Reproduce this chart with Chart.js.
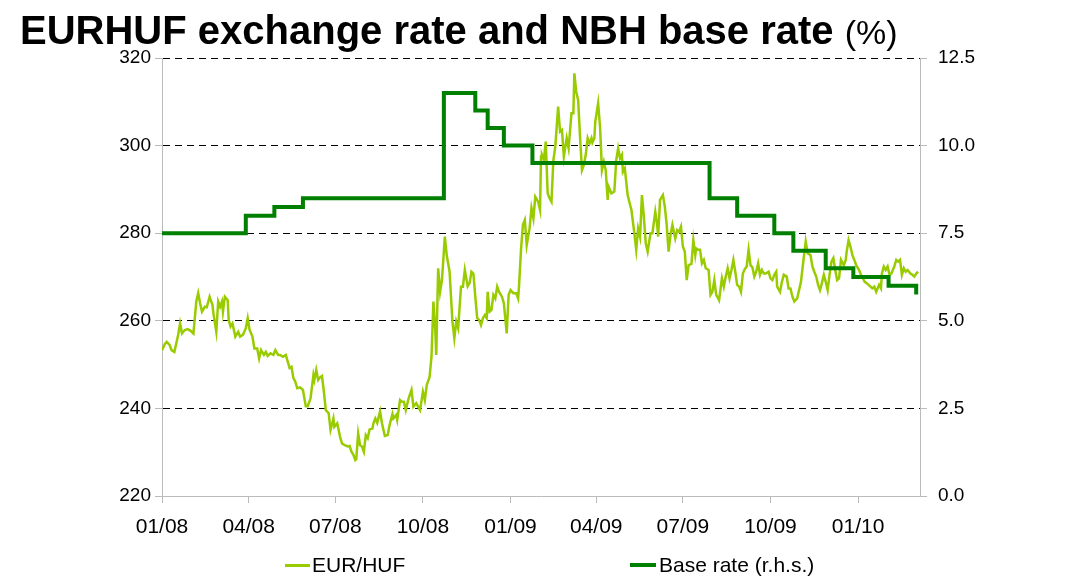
<!DOCTYPE html>
<html>
<head>
<meta charset="utf-8">
<script src="https://cdn.jsdelivr.net/npm/chart.js@4/dist/chart.umd.min.js"></script>
<style>
    body { margin: 0; background: #fff; font-family: 'Liberation Sans', Arial, sans-serif; }
    #wrap { position: relative; width: 1074px; height: 577px; }
    #title { position: absolute; left: 20px; top: 10px; font-size: 40px; line-height: 40px; font-weight: bold; color: #000; white-space: nowrap; }
    #title span { font-weight: normal; font-size: 34px; }
    .leg { position: absolute; top: 553px; font-size: 21px; line-height: 24px; color: #000; white-space: nowrap; }
    .swatch { position: absolute; }
</style>
</head>
<body>
<div id="wrap">
    <canvas id="chart" width="1074" height="577"></canvas>
    <div id="title">EURHUF exchange rate and NBH base rate <span>(%)</span></div>
    <div class="swatch" style="left:285px; top:564px; width:25px; height:3px; background:#99cc00;"></div>
    <div class="leg" style="left:312px;">EUR/HUF</div>
    <div class="swatch" style="left:630px; top:563px; width:26px; height:4px; background:#008000;"></div>
    <div class="leg" style="left:659px;">Base rate (r.h.s.)</div>
</div>
<script>
// x values are days counted from 2008-01-01
const quarterDays = [0, 91, 182, 274, 366, 456, 547, 639, 731];
const quarterLabels = ['01/08', '04/08', '07/08', '10/08', '01/09', '04/09', '07/09', '10/09', '01/10'];

// EUR/HUF (left axis)
const hufDays = [
    0, 3, 5, 8, 10, 13, 17, 19, 21, 24, 27, 30, 33, 36, 38, 40, 42, 45, 47, 50,
    53, 54, 57, 59, 61, 63, 64, 66, 69, 70, 72, 74, 77, 80, 82, 85, 88, 90, 92, 95,
    97, 100, 102, 104, 107, 109, 111, 114, 117, 119, 122, 124, 127, 130, 134, 136, 138, 140, 142, 145,
    148, 151, 153, 156, 159, 160, 162, 164, 166, 168, 170, 172, 175, 177, 180, 181, 184, 187, 189, 192,
    195, 197, 199, 201, 203, 204, 206, 208, 210, 212, 214, 216, 218, 221, 222, 224, 226, 229, 231, 234,
    237, 239, 242, 243, 246, 247, 250, 252, 254, 256, 259, 262, 264, 267, 269, 271, 274, 276, 278, 281,
    283, 285, 287, 288, 290, 292, 294, 297, 299, 302, 305, 307, 309, 311, 314, 316, 318, 321, 323, 325,
    327, 329, 331, 333, 335, 337, 339, 341, 342, 344, 346, 348, 350, 352, 354, 357, 359, 362, 364, 366,
    369, 372, 374, 375, 377, 379, 381, 383, 386, 388, 390, 392, 395, 397, 398, 399, 401, 403, 405, 407,
    409, 411, 413, 416, 418, 420, 422, 425, 427, 430, 432, 433, 435, 437, 439, 441, 443, 445, 447, 449,
    451, 452, 454, 455, 458, 460, 462, 464, 466, 468, 469, 472, 475, 477, 479, 481, 483, 484, 486, 489,
    492, 493, 496, 498, 500, 502, 504, 506, 508, 510, 513, 515, 518, 520, 521, 523, 526, 528, 530, 532,
    534, 536, 539, 541, 543, 545, 547, 549, 551, 553, 556, 558, 560, 561, 563, 565, 567, 569, 571, 574,
    576, 578, 580, 582, 583, 585, 588, 590, 592, 594, 596, 598, 600, 602, 604, 606, 608, 610, 612, 614,
    616, 618, 620, 622, 624, 626, 628, 630, 632, 634, 637, 639, 641, 643, 645, 646, 649, 651, 653, 656,
    658, 660, 662, 664, 667, 669, 671, 674, 676, 678, 681, 683, 685, 687, 689, 691, 693, 695, 697, 699,
    701, 703, 705, 707, 709, 711, 713, 716, 718, 719, 721, 723, 725, 727, 729, 732, 734, 736, 738, 740,
    742, 744, 746, 748, 750, 753, 755, 756, 758, 760, 762, 764, 766, 769, 771, 773, 775, 777, 779, 781,
    783, 786, 788, 790, 792, 794
];
const hufValues = [
    253.3, 254.7, 255.2, 254.5, 253.3, 252.9, 256.8, 259.4, 257.1, 257.9, 258.1, 257.7, 257.1, 264.4, 266.3, 264.0, 262.1, 263.2, 263.1, 265.5,
    263.6, 261.7, 257.5, 264.4, 263.2, 264.4, 262.1, 265.5, 264.7, 260.2, 258.7, 259.4, 256.4, 257.5, 256.4, 256.8, 258.3, 260.6, 257.9, 256.4,
    253.7, 253.7, 251.4, 253.3, 252.2, 252.9, 252.0, 252.6, 252.2, 253.3, 252.2, 252.2, 251.8, 252.2, 249.2, 249.5, 246.9, 246.1, 244.6, 244.8,
    244.2, 240.5, 240.5, 242.3, 247.6, 246.5, 248.8, 246.5, 247.1, 247.4, 243.8, 239.6, 238.9, 235.1, 237.7, 235.8, 236.6, 233.5, 232.0, 231.6,
    231.3, 231.4, 230.1, 229.4, 228.2, 228.4, 234.3, 231.6, 231.3, 230.1, 233.9, 233.2, 235.2, 235.4, 236.6, 237.7, 236.7, 239.3, 236.6, 233.7,
    233.9, 236.2, 238.7, 237.7, 238.5, 237.4, 241.9, 241.5, 241.5, 239.6, 242.3, 244.2, 240.4, 241.2, 240.4, 239.6, 243.8, 241.9, 245.3, 247.2,
    251.8, 264.4, 257.9, 252.2, 272.0, 266.6, 269.3, 279.2, 275.0, 271.2, 259.8, 256.0, 259.8, 258.3, 267.8, 267.8, 271.6, 267.9, 268.6, 271.2,
    270.8, 265.5, 260.6, 260.2, 259.0, 260.6, 261.3, 260.6, 266.6, 262.1, 262.5, 265.9, 265.1, 267.8, 266.6, 265.5, 264.0, 257.1, 265.9, 267.0,
    266.3, 266.3, 265.1, 268.2, 276.2, 281.9, 283.0, 277.3, 281.1, 285.7, 283.4, 288.3, 287.2, 285.3, 297.5, 297.9, 296.7, 300.9, 289.1, 288.0,
    287.2, 296.7, 299.7, 308.9, 303.2, 303.6, 297.5, 301.7, 299.4, 307.4, 307.4, 316.5, 312.3, 310.4, 302.0, 294.4, 295.6, 297.9, 301.7, 300.5,
    301.7, 300.7, 301.7, 305.5, 309.7, 304.3, 294.4, 296.3, 294.4, 287.6, 290.6, 289.1, 289.5, 296.7, 299.4, 297.1, 297.9, 294.0, 294.8, 288.7,
    286.1, 285.3, 280.0, 276.2, 281.1, 279.2, 288.7, 283.8, 277.7, 275.8, 280.0, 280.0, 284.9, 281.9, 279.2, 287.6, 288.7, 286.1, 281.9, 275.8,
    279.6, 281.9, 278.8, 280.7, 280.3, 281.5, 276.9, 275.8, 269.3, 272.7, 273.0, 278.4, 275.0, 276.5, 276.2, 276.2, 273.1, 273.9, 272.0, 271.6,
    265.9, 266.6, 269.3, 265.9, 265.5, 264.7, 269.7, 267.8, 270.1, 272.0, 269.7, 271.6, 273.9, 271.2, 268.2, 267.8, 266.6, 270.8, 271.8, 272.4,
    276.2, 272.7, 272.2, 270.1, 271.2, 273.1, 270.5, 271.6, 270.8, 270.8, 271.2, 269.7, 269.3, 270.5, 271.2, 267.8, 266.6, 268.9, 270.5, 270.1,
    267.4, 267.4, 265.5, 264.4, 265.1, 267.0, 268.9, 274.6, 278.1, 275.4, 275.0, 272.4, 271.2, 270.1, 268.2, 267.0, 268.6, 270.5, 268.9, 267.0,
    270.5, 273.5, 274.3, 271.6, 269.3, 269.7, 273.9, 272.7, 273.9, 275.8, 278.4, 276.9, 275.0, 273.9, 272.7, 271.6, 270.5, 269.7, 268.9, 268.6,
    268.2, 267.8, 267.4, 267.8, 266.6, 268.2, 267.4, 270.8, 272.4, 271.6, 272.4, 270.5, 270.8, 272.4, 273.9, 273.5, 273.9, 270.5, 272.0, 271.2,
    271.6, 270.8, 270.5, 270.1, 270.8, 271.2
];

// NBH base rate (right axis), day of each change and new level
const rateDays = [0, 88, 118, 148, 296, 329, 342, 359, 389, 575, 604, 643, 663, 697, 726, 763, 792];
const rateValues = [7.5, 8.0, 8.25, 8.5, 11.5, 11.0, 10.5, 10.0, 9.5, 8.5, 8.0, 7.5, 7.0, 6.5, 6.25, 6.0, 5.75];

const FAMILY = "'Liberation Sans', Arial, sans-serif";

document.addEventListener('DOMContentLoaded', () => {
    const ctx = document.getElementById('chart').getContext('2d');

    new Chart(ctx, {
        type: 'line',
        data: {
            datasets: [{
                label: 'EUR/HUF',
                data: hufDays.map((d, i) => ({ x: d, y: hufValues[i] })),
                borderColor: '#99cc00',
                borderWidth: 2.5,
                pointRadius: 0,
                tension: 0,
                yAxisID: 'y',
                order: 1
            }, {
                label: 'Base rate (r.h.s.)',
                data: rateDays.map((d, i) => ({ x: d, y: rateValues[i] })),
                borderColor: '#008000',
                borderWidth: 4,
                pointRadius: 0,
                stepped: 'before',
                yAxisID: 'y1',
                order: 0
            }]
        },
        options: {
            responsive: false,
            animation: false,
            layout: { padding: { top: 58, left: 0, right: 0, bottom: 0 } },
            plugins: {
                legend: { display: false },
                tooltip: { enabled: false }
            },
            scales: {
                x: {
                    type: 'linear',
                    min: 0,
                    max: 796,
                    afterBuildTicks: (axis) => {
                        axis.ticks = quarterDays.map(v => ({ value: v }));
                    },
                    afterFit: (axis) => { axis.height = 577 - 496; },
                    ticks: {
                        autoSkip: false,
                        maxRotation: 0,
                        padding: 12,
                        color: '#000',
                        font: { family: FAMILY, size: 21 },
                        callback: (value, index) => quarterLabels[index]
                    },
                    grid: { drawOnChartArea: false, tickLength: 7, tickColor: '#bbb' },
                    border: { color: '#bbb', width: 1 }
                },
                y: {
                    position: 'left',
                    min: 220,
                    max: 320,
                    afterFit: (axis) => { axis.width = 162; },
                    ticks: { stepSize: 20, padding: 4, color: '#000', font: { family: FAMILY, size: 19 } },
                    grid: {
                        color: (c) => c.tick && c.tick.value === 220 ? 'rgba(0,0,0,0)' : '#000',
                        lineWidth: 1,
                        tickLength: 7,
                        tickColor: '#bbb'
                    },
                    border: { color: '#bbb', width: 1, dash: [7, 5] }
                },
                y1: {
                    position: 'right',
                    min: 0,
                    max: 12.5,
                    afterFit: (axis) => { axis.width = 1074 - 920; },
                    ticks: {
                        stepSize: 2.5,
                        padding: 11,
                        color: '#000',
                        font: { family: FAMILY, size: 19 },
                        callback: (value) => value.toFixed(1)
                    },
                    grid: { drawOnChartArea: false, tickLength: 7, tickColor: '#bbb' },
                    border: { color: '#bbb', width: 1 }
                }
            }
        }
    });
});
</script>
</body>
</html>
